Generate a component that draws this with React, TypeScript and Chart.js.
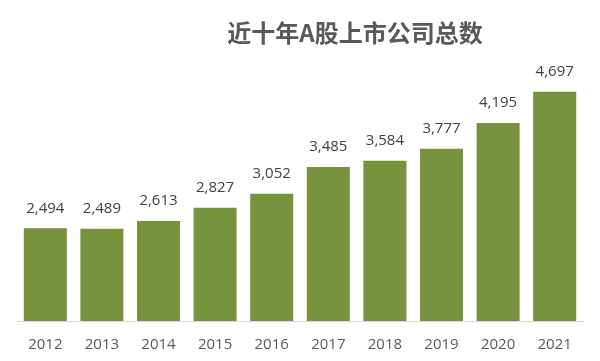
import React, { useEffect, useRef } from "react";
import { Chart, registerables } from "chart.js";

Chart.register(...registerables);

const categories = ["2012", "2013", "2014", "2015", "2016", "2017", "2018", "2019", "2020", "2021"];
const companyCounts = [2494, 2489, 2613, 2827, 3052, 3485, 3584, 3777, 4195, 4697];
const titleText = "近十年A股上市公司总数";

const labelPlugin = {
  id: "customLabels",
  afterDatasetsDraw(chart: any) {
    const { ctx } = chart;
    const meta = chart.getDatasetMeta(0);
    ctx.save();
    ctx.font = "15px 'Open Sans', sans-serif";
    ctx.fillStyle = "#404040";
    ctx.textAlign = "center";
    ctx.textBaseline = "middle";
    meta.data.forEach((bar: any, i: number) => {
      ctx.fillText(companyCounts[i].toLocaleString("en-US"), bar.x, bar.y - 20);
    });
    ctx.font = "bold 24px 'Noto Sans CJK SC', sans-serif";
    ctx.fillStyle = "#595959";
    ctx.fillText(titleText, 355, 33);
    ctx.restore();
  },
};

export default function App() {
  const ref = useRef<HTMLCanvasElement>(null);
  useEffect(() => {
    if (!ref.current) return;
    const chart = new Chart(ref.current, {
      type: "bar",
      data: {
        labels: categories,
        datasets: [
          {
            data: companyCounts,
            backgroundColor: "#76923C",
            categoryPercentage: 1,
            barPercentage: 0.76,
          },
        ],
      },
      options: {
        responsive: false,
        animation: false,
        layout: { padding: { left: 17, right: 17, top: 73, bottom: 0 } },
        plugins: { legend: { display: false }, tooltip: { enabled: false }, title: { display: false } },
        scales: {
          x: {
            grid: { display: false },
            border: { display: true, color: "#D9D9D9", width: 1 },
            ticks: {
              color: "#595959",
              font: { family: "'Open Sans', sans-serif", size: 15 },
              padding: 7,
            },
          },
          y: { display: false, min: 1000, max: 5000 },
        },
      },
      plugins: [labelPlugin],
    });
    return () => chart.destroy();
  }, []);
  return (
    <div style={{ position: "fixed", left: 0, top: 0, width: 600, height: 361, background: "#fff" }}>
      <canvas ref={ref} width={600} height={361} />
    </div>
  );
}
